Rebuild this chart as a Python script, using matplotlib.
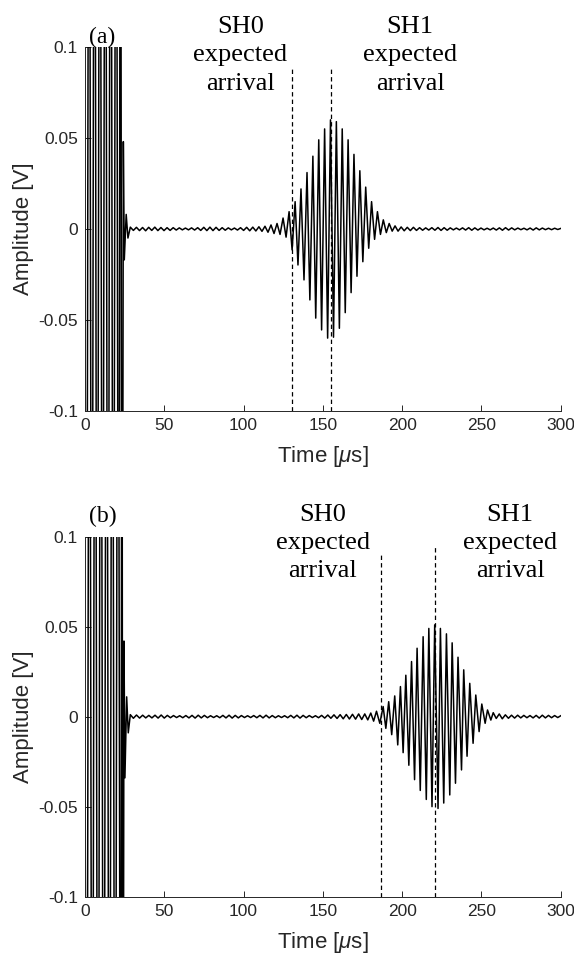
#!/usr/bin/env python3
import numpy as np
import matplotlib
matplotlib.use('Agg')
import matplotlib.pyplot as plt
from matplotlib import rcParams

rcParams['font.family'] = ['Liberation Sans', 'DejaVu Sans']
rcParams['mathtext.fontset'] = 'custom'
rcParams['mathtext.it'] = 'Liberation Sans:italic'
rcParams['mathtext.rm'] = 'Liberation Sans'

# ---- values (time in us, amplitude in V) ----
x_ticks = [0, 50, 100, 150, 200, 250, 300]
y_ticks = [-0.1, -0.05, 0, 0.05, 0.1]
y_tick_labels = ['-0.1', '-0.05', '0', '0.05', '0.1']

# panel (a)
burst_a_t = [0.0, 0.9, 2.6, 4.3, 6.0, 7.7, 9.4, 11.1, 12.8, 14.5, 16.2, 17.9, 19.6, 21.3, 22.4, 23.4]
burst_a_v = [0.0, -0.4, 0.4, -0.4, 0.4, -0.4, 0.4, -0.4, 0.4, -0.4, 0.4, -0.4, 0.4, -0.4, 0.4, -0.4]
tail_a_t = [24.2, 24.8, 26.0, 27.1]
tail_a_v = [0.048, -0.017, 0.008, -0.005]
ripple_a_pre_span = (28.6, 111.6)
ripple_a_pre = [0.0010, -0.0008, 0.0009, -0.0009, 0.0008, -0.0010, 0.0009, -0.0008, 0.0010, -0.0009,
                0.0008, -0.0009, 0.0007, -0.0008, 0.0007, -0.0006, 0.0006, -0.0005, 0.0005, -0.0005,
                0.0006, -0.0006, 0.0007, -0.0008, 0.0009, -0.0009, 0.0010, -0.0009, 0.0009, -0.0008,
                0.0007, -0.0007, 0.0006, -0.0005, 0.0005, -0.0006, 0.0007, -0.0008, 0.0009, -0.0010,
                0.0010, -0.0011, 0.0012, -0.0013]
pkt_a_t = [113.5, 115.4, 117.3, 119.2, 121.1, 123.0, 124.9, 126.8, 128.7, 130.6,
           132.5, 134.3, 136.2, 138.1, 140.0, 141.8, 143.7, 145.5, 147.4, 149.2,
           151.1, 153.0, 154.8, 156.7, 158.5, 160.4, 162.2, 164.1, 165.9, 167.8,
           169.6, 171.5, 173.3, 175.2, 177.0, 178.9, 180.7, 182.6, 184.4, 186.3,
           188.1, 190.0, 191.8, 193.7, 195.5]
pkt_a_v = [0.0015, -0.0018, 0.0022, -0.0025, 0.003, -0.003, 0.006, -0.0045, 0.0095, -0.0115,
           0.015, -0.0198, 0.022, -0.028, 0.031, -0.039, 0.040, -0.049, 0.049, -0.0555,
           0.055, -0.060, 0.060, -0.0595, 0.059, -0.0546, 0.055, -0.046, 0.049, -0.035,
           0.041, -0.026, 0.032, -0.018, 0.023, -0.0106, 0.015, -0.0057, 0.0095, -0.003,
           0.005, -0.002, 0.003, -0.0012, 0.0017]
ripple_a_post_span = (197.4, 300.0)
ripple_a_post = [-0.0012, 0.0011, -0.0010, 0.0009, -0.0009, 0.0009, -0.0008, 0.0007, -0.0007, 0.0006,
                 -0.0006, 0.0007, -0.0007, 0.0008, -0.0008, 0.0007, -0.0007, 0.0006, -0.0005, 0.0005,
                 -0.0005, 0.0006, -0.0006, 0.0007, -0.0007, 0.0006, -0.0006, 0.0005, -0.0005, 0.0004,
                 -0.0005, 0.0005, -0.0006, 0.0006, -0.0007, 0.0007, -0.0006, 0.0006, -0.0005, 0.0005,
                 -0.0004, 0.0004, -0.0005, 0.0005, -0.0006, 0.0006, -0.0005, 0.0005, -0.0004, 0.0004,
                 -0.0004, 0.0004, -0.0003, 0.0003]
arrivals_a = [130.5, 155.0]
arrival_tops_a = [0.088, 0.088]

# panel (b)
burst_b_t = [0.0, 1.0, 2.8, 4.6, 6.4, 8.2, 10.0, 11.8, 13.6, 15.4, 17.2, 19.0, 20.8, 22.6, 23.3, 23.9]
burst_b_v = [0.0, -0.4, 0.4, -0.4, 0.4, -0.4, 0.4, -0.4, 0.4, -0.4, 0.4, -0.4, 0.4, -0.4, 0.4, -0.4]
tail_b_t = [24.6, 25.2, 26.3, 27.3]
tail_b_v = [0.042, -0.034, 0.011, -0.009]
ripple_b_pre_span = (28.6, 174.5)
ripple_b_pre = [0.0011, -0.0009, 0.0009, -0.0008, 0.0008, -0.0007, 0.0007, -0.0007, 0.0008, -0.0008,
                0.0009, -0.0008, 0.0007, -0.0006, 0.0006, -0.0005, 0.0005, -0.0006, 0.0006, -0.0007,
                0.0007, -0.0008, 0.0008, -0.0007, 0.0007, -0.0006, 0.0005, -0.0005, 0.0005, -0.0006,
                0.0007, -0.0007, 0.0008, -0.0008, 0.0007, -0.0007, 0.0006, -0.0005, 0.0005, -0.0005,
                0.0006, -0.0006, 0.0007, -0.0007, 0.0008, -0.0007, 0.0006, -0.0006, 0.0005, -0.0005,
                0.0005, -0.0006, 0.0007, -0.0007, 0.0008, -0.0008, 0.0007, -0.0006, 0.0006, -0.0005,
                0.0005, -0.0006, 0.0007, -0.0008, 0.0009, -0.0009, 0.0010, -0.0010, 0.0011, -0.0012,
                0.0012, -0.0013, 0.0013, -0.0014, 0.0015, -0.0016]
pkt_b_t = [176.4, 178.3, 180.2, 182.0, 183.8, 185.9, 188.0, 189.7, 191.5, 193.4,
           195.3, 197.2, 198.9, 200.6, 202.3, 204.2, 205.9, 207.8, 209.4, 211.4,
           213.2, 215.2, 216.8, 218.8, 220.5, 222.6, 224.1, 226.2, 227.9, 230.0,
           231.5, 233.6, 235.2, 237.4, 238.8, 240.9, 242.6, 244.7, 246.4, 248.5,
           250.2, 252.3, 253.8, 255.9, 257.4, 259.3, 261.2]
pkt_b_v = [0.0015, -0.0018, 0.002, -0.0025, 0.003, -0.0037, 0.0056, -0.0065, 0.0083, -0.010,
           0.0115, -0.0157, 0.0167, -0.020, 0.023, -0.027, 0.0306, -0.035, 0.038, -0.041,
           0.0444, -0.046, 0.049, -0.050, 0.051, -0.051, 0.049, -0.048, 0.046, -0.0435,
           0.041, -0.037, 0.033, -0.0296, 0.026, -0.022, 0.0185, -0.0148, 0.012, -0.0083,
           0.007, -0.0037, 0.0037, -0.0019, 0.0022, -0.001, 0.0015]
ripple_b_post_span = (263.1, 300.0)
ripple_b_post = [-0.0012, 0.0010, -0.0009, 0.0008, -0.0008, 0.0008, -0.0007, 0.0007, -0.0006, 0.0006,
                 -0.0007, 0.0007, -0.0008, 0.0008, -0.0007, 0.0007, -0.0006, 0.0006, -0.0005, 0.0005]
arrivals_b = [186.5, 220.5]
arrival_tops_b = [0.091, 0.095]

# text annotations: mode name and x position (us)
sh_text = 'expected\narrival'
labels_a = [('SH0', 98.0), ('SH1', 205.0)]
labels_b = [('SH0', 150.0), ('SH1', 268.0)]


def build_signal(burst_t, burst_v, tail_t, tail_v, pre_span, pre_v, pkt_t, pkt_v, post_span, post_v):
  """Chain the read-off extrema into one trace."""
  t = np.concatenate([burst_t, tail_t, np.linspace(*pre_span, len(pre_v)), pkt_t,
                      np.linspace(*post_span, len(post_v))])
  v = np.concatenate([burst_v, tail_v, pre_v, pkt_v, post_v])
  return t, v


def style_axes(ax):
  ax.set_xlim(0, 300)
  ax.set_ylim(-0.1, 0.1)
  ax.set_xticks(x_ticks)
  ax.set_yticks(y_ticks)
  ax.set_yticklabels(y_tick_labels)
  for s in ['top', 'right']:
    ax.spines[s].set_visible(False)
  for s in ['left', 'bottom']:
    ax.spines[s].set_color('#262626')
    ax.spines[s].set_linewidth(0.7)
  ax.tick_params(direction='in', length=4, width=0.7, color='#262626', labelcolor='#262626',
                 labelsize=12.5, pad=5)
  ax.set_xlabel(r'Time [$\mu$s]', fontsize=16, color='#262626', labelpad=8)
  ax.set_ylabel('Amplitude [V]', fontsize=16, color='#262626', labelpad=3)


def draw_panel(ax, t, v, arrivals, tops, labels, tag, tag_y, text_y):
  ax.plot(t, v, color='black', lw=1.1)
  for x, top in zip(arrivals, tops):
    ax.plot([x, x], [-0.1, top], color='black', lw=0.9, linestyle=(0, (3.5, 2.5)))
  for name, x in labels:
    ax.text(x, text_y, name + '\n' + sh_text, ha='center', va='center', fontsize=19,
            family='Liberation Serif', linespacing=1.37, clip_on=False)
  ax.text(11, tag_y, tag, ha='center', va='center', fontsize=17, family='Liberation Serif',
          clip_on=False)
  style_axes(ax)


def main():
  fig = plt.figure(figsize=(5.74, 9.6), dpi=100)
  ax_a = fig.add_axes([0.148, 0.572, 0.829, 0.379])
  ax_b = fig.add_axes([0.148, 0.066, 0.829, 0.375])

  t_a, v_a = build_signal(burst_a_t, burst_a_v, tail_a_t, tail_a_v, ripple_a_pre_span, ripple_a_pre,
                          pkt_a_t, pkt_a_v, ripple_a_post_span, ripple_a_post)
  t_b, v_b = build_signal(burst_b_t, burst_b_v, tail_b_t, tail_b_v, ripple_b_pre_span, ripple_b_pre,
                          pkt_b_t, pkt_b_v, ripple_b_post_span, ripple_b_post)

  draw_panel(ax_a, t_a, v_a, arrivals_a, arrival_tops_a, labels_a, '(a)', 0.1055, 0.0955)
  draw_panel(ax_b, t_b, v_b, arrivals_b, arrival_tops_b, labels_b, '(b)', 0.111, 0.0965)

  fig.savefig('out.png', dpi=100)


if __name__ == "__main__":
  main()
